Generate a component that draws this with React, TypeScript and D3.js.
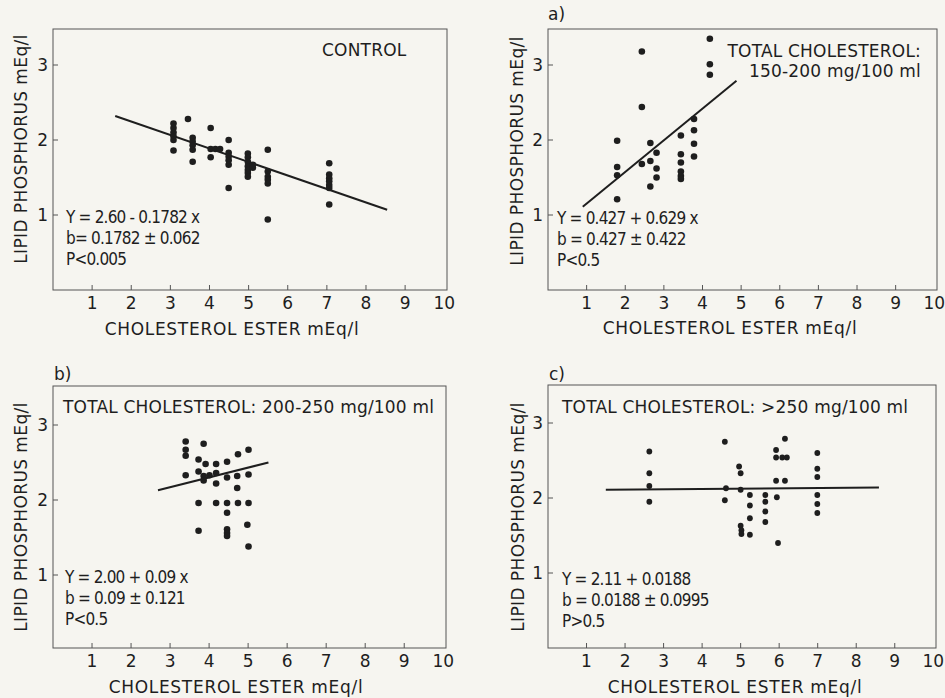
import React from "react";
import * as d3 from "d3";

// ---------- data ----------
const xTicks = [1, 2, 3, 4, 5, 6, 7, 8, 9, 10];
const yTicks = [1, 2, 3];

const controlPoints: [number, number][] = [
  [3.08, 2.22], [3.08, 2.16], [3.08, 2.1], [3.08, 2.05], [3.08, 2.0], [3.08, 1.86],
  [3.45, 2.28],
  [3.57, 2.03], [3.57, 1.98], [3.57, 1.93], [3.57, 1.87], [3.57, 1.71],
  [4.03, 2.16], [4.03, 1.77], [4.03, 1.88], [4.15, 1.88], [4.27, 1.88],
  [4.49, 2.0], [4.49, 1.83], [4.49, 1.78], [4.49, 1.73], [4.49, 1.67], [4.49, 1.36],
  [4.98, 1.82], [4.98, 1.77], [4.98, 1.71], [4.98, 1.65], [4.98, 1.6], [4.98, 1.56], [4.98, 1.51],
  [5.11, 1.67], [5.11, 1.63],
  [5.49, 1.87], [5.49, 1.58], [5.49, 1.51], [5.49, 1.47], [5.49, 1.42], [5.49, 0.94],
  [7.06, 1.69], [7.06, 1.54], [7.06, 1.49], [7.06, 1.45], [7.06, 1.4], [7.06, 1.36], [7.06, 1.14],
];

const pointsA: [number, number][] = [
  [1.79, 1.99], [1.79, 1.64], [1.79, 1.53], [1.79, 1.21],
  [2.43, 3.18], [2.43, 2.44], [2.43, 1.68],
  [2.65, 1.96], [2.65, 1.72], [2.65, 1.38],
  [2.81, 1.83], [2.81, 1.62], [2.81, 1.5],
  [3.44, 2.06], [3.44, 1.81], [3.44, 1.7], [3.44, 1.58], [3.44, 1.52], [3.44, 1.48],
  [3.78, 2.28], [3.78, 2.13], [3.78, 1.95], [3.78, 1.78],
  [4.19, 3.35], [4.19, 3.01], [4.19, 2.87],
];

const pointsB: [number, number][] = [
  [3.4, 2.78], [3.4, 2.67], [3.4, 2.59], [3.4, 2.33],
  [3.86, 2.75], [3.73, 2.54], [3.91, 2.48], [4.18, 2.48], [4.46, 2.51], [4.74, 2.61], [5.01, 2.67],
  [3.73, 2.38], [3.86, 2.32], [3.86, 2.26], [4.01, 2.33], [4.18, 2.36], [4.18, 2.22],
  [4.46, 2.3], [4.72, 2.32], [5.01, 2.34], [4.72, 2.16],
  [3.73, 1.96], [4.18, 1.96], [4.46, 1.96], [4.74, 1.96], [5.01, 1.96],
  [4.46, 1.83],
  [3.73, 1.59], [4.46, 1.61], [4.46, 1.56], [4.46, 1.52], [4.98, 1.67], [5.01, 1.38],
];

const pointsC: [number, number][] = [
  [2.63, 2.62], [2.63, 2.33], [2.63, 2.16], [2.63, 1.95],
  [4.59, 2.75], [4.62, 2.13], [4.59, 1.97],
  [4.96, 2.42], [5.0, 2.33], [5.0, 2.11], [5.0, 1.63], [5.02, 1.57], [5.02, 1.52],
  [5.24, 2.04], [5.24, 1.9], [5.24, 1.73], [5.24, 1.51],
  [5.64, 2.04], [5.64, 1.95], [5.64, 1.82], [5.64, 1.68],
  [5.92, 2.64], [5.92, 2.54], [6.08, 2.54], [6.2, 2.54], [6.15, 2.79],
  [5.92, 2.23], [6.15, 2.23], [5.94, 2.01], [5.97, 1.4],
  [6.99, 2.6], [6.99, 2.39], [6.99, 2.28], [6.99, 2.04], [6.99, 1.92], [6.99, 1.8],
];

const controlLine: [number, number][] = [[1.59, 2.32], [8.54, 1.07]];
const lineA: [number, number][] = [[0.9, 1.11], [4.88, 2.79]];
const lineB: [number, number][] = [[2.69, 2.13], [5.52, 2.5]];
const lineC: [number, number][] = [[1.5, 2.11], [8.59, 2.14]];

const controlEq = ["Y = 2.60 - 0.1782 x", "b= 0.1782 \u00b1 0.062", "P<0.005"];
const eqA = ["Y = 0.427 + 0.629 x", "b = 0.427 \u00b1 0.422", "P<0.5"];
const eqB = ["Y = 2.00 + 0.09 x", "b = 0.09 \u00b1 0.121", "P<0.5"];
const eqC = ["Y = 2.11 + 0.0188", "b = 0.0188 \u00b1 0.0995", "P>0.5"];

const titleControl = ["CONTROL"];
const titleA = ["TOTAL CHOLESTEROL:", "150-200 mg/100 ml"];
const titleB = ["TOTAL CHOLESTEROL: 200-250 mg/100 ml"];
const titleC = ["TOTAL CHOLESTEROL: >250 mg/100 ml"];

const xTitle = "CHOLESTEROL ESTER mEq/l";
const yTitle = "LIPID PHOSPHORUS mEq/l";

// ---------- styling ----------
const FONT = "'DejaVu Sans', sans-serif";
const FONT_EQ = "'DejaVu Sans Condensed', 'DejaVu Sans', sans-serif";
const INK = "#1e1e1e";
const AXIS = "#555";

type PanelCfg = {
  left: number; right: number; top: number; bottom: number; y0: number;
  points: [number, number][]; line: [number, number][]; eq: string[];
  title: string[]; titleX: number; titleY: number; titleAnchor: "start" | "end";
  eqX: number; eqY: number; label?: string; labelX?: number; labelY?: number;
  xTitleX: number; xTitleY: number; yTitleX: number; yTitleY: number; r: number;
};

const panels: PanelCfg[] = [
  {
    left: 53, right: 447, top: 29, bottom: 290, y0: 290,
    points: controlPoints, line: controlLine, eq: controlEq,
    title: titleControl, titleX: 322, titleY: 56, titleAnchor: "start",
    eqX: 66, eqY: 223, xTitleX: 232, xTitleY: 335, yTitleX: 27, yTitleY: 149, r: 3.3,
  },
  {
    left: 548, right: 937, top: 29, bottom: 290, y0: 290,
    points: pointsA, line: lineA, eq: eqA,
    title: titleA, titleX: 921, titleY: 57, titleAnchor: "end",
    eqX: 557, eqY: 224, label: "a)", labelX: 548, labelY: 20,
    xTitleX: 730, xTitleY: 334, yTitleX: 523, yTitleY: 151, r: 3.3,
  },
  {
    left: 53, right: 446, top: 386, bottom: 648, y0: 650,
    points: pointsB, line: lineB, eq: eqB,
    title: titleB, titleX: 63, titleY: 413, titleAnchor: "start",
    eqX: 65, eqY: 583, label: "b)", labelX: 54, labelY: 380,
    xTitleX: 236, xTitleY: 693, yTitleX: 27, yTitleY: 517, r: 3.3,
  },
  {
    left: 548, right: 936, top: 385, bottom: 648, y0: 648,
    points: pointsC, line: lineC, eq: eqC,
    title: titleC, titleX: 562, titleY: 413, titleAnchor: "start",
    eqX: 562, eqY: 585, label: "c)", labelX: 549, labelY: 380,
    xTitleX: 735, xTitleY: 693, yTitleX: 524, yTitleY: 517, r: 2.9,
  },
];

function Panel({ p }: { p: PanelCfg }) {
  const x = d3.scaleLinear().domain([0, 10]).range([p.left, p.left + (p.right - p.left) * 0.993]);
  const y = d3.scaleLinear().domain([0, 1]).range([p.y0, p.y0 - 75]);
  const line = d3.line<[number, number]>().x((d) => x(d[0])).y((d) => y(d[1]));
  return (
    <g>
      <rect x={p.left} y={p.top} width={p.right - p.left} height={p.bottom - p.top}
        fill="none" stroke={AXIS} strokeWidth={1} />
      {xTicks.map((t) => (
        <g key={"x" + t}>
          {t < 10 && (
            <line x1={x(t)} x2={x(t)} y1={p.bottom} y2={p.bottom - 5} stroke={AXIS} strokeWidth={1} />
          )}
          <text x={x(t)} y={p.bottom + 19} textAnchor="middle" fontSize={17} fill={INK}>{t}</text>
        </g>
      ))}
      {yTicks.map((t) => (
        <g key={"y" + t}>
          <line x1={p.left} x2={p.left + 5} y1={y(t)} y2={y(t)} stroke={AXIS} strokeWidth={1} />
          <text x={p.left - 5} y={y(t)} dy="0.36em" textAnchor="end" fontSize={17} fill={INK}>{t}</text>
        </g>
      ))}
      <path d={line(p.line) || ""} stroke={INK} strokeWidth={2} fill="none" />
      {p.points.map((d, i) => (
        <circle key={i} cx={x(d[0])} cy={y(d[1])} r={p.r} fill={INK} />
      ))}
      {p.title.map((s, i) => (
        <text key={"t" + i} x={p.titleX} y={p.titleY + i * 20} textAnchor={p.titleAnchor}
          fontSize={17} fill={INK} letterSpacing={0.2}>{s}</text>
      ))}
      {p.eq.map((s, i) => (
        <text key={"e" + i} x={p.eqX} y={p.eqY + i * 21} fontSize={17} fill={INK}
          fontFamily={FONT_EQ} letterSpacing={-0.8}>{s}</text>
      ))}
      {p.label && (
        <text x={p.labelX} y={p.labelY} fontSize={17} fill={INK}>{p.label}</text>
      )}
      <text x={p.xTitleX} y={p.xTitleY} textAnchor="middle" fontSize={17} fill={INK}
        letterSpacing={0.7}>{xTitle}</text>
      <text transform={`translate(${p.yTitleX},${p.yTitleY}) rotate(-90)`} textAnchor="middle"
        fontSize={17} fill={INK} letterSpacing={0.4}>{yTitle}</text>
    </g>
  );
}

export default function App() {
  return (
    <svg width={945} height={698} style={{ position: "absolute", left: 0, top: 0 }}
      fontFamily={FONT}>
      <rect x={0} y={0} width={945} height={698} fill="#f6f5f0" />
      {panels.map((p, i) => <Panel key={i} p={p} />)}
    </svg>
  );
}
